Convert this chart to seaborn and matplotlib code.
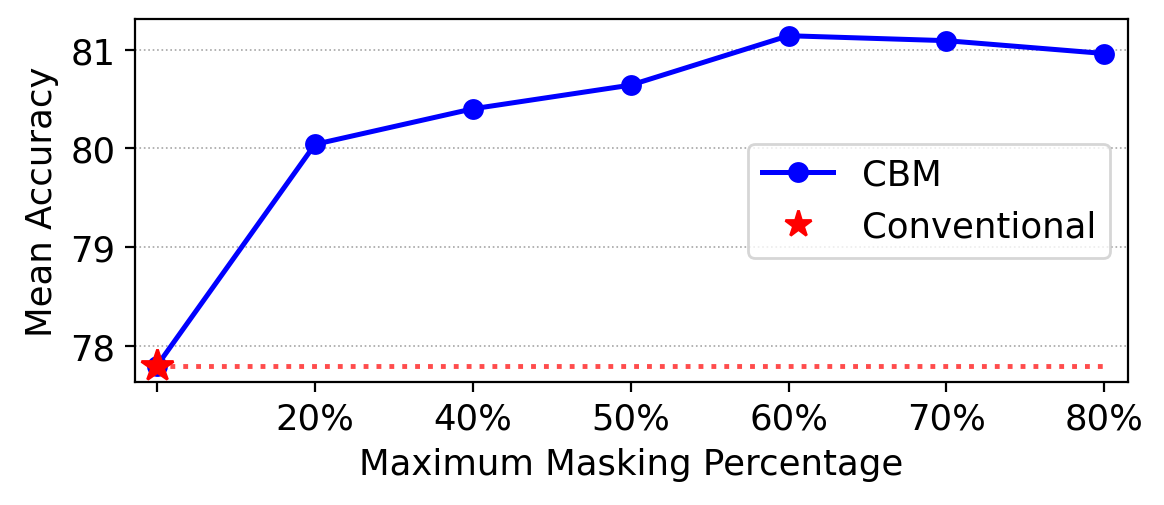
import matplotlib.pyplot as plt
import numpy as np
import pandas as pd
import seaborn as sns
from matplotlib.lines import Line2D

# Data
mask_labels = ['', '20%', '40%', '50%', '60%', '70%', '80%']
cbm_acc = [77.80, 80.04, 80.40, 80.64, 81.14, 81.09, 80.96]
conventional_acc = 77.80

fs = 12.8
df = pd.DataFrame({'pos': np.arange(len(mask_labels)), 'acc': cbm_acc})

fig, ax = plt.subplots(figsize=(5.82, 2.53), dpi=200)
fig.subplots_adjust(left=0.116, right=0.969, top=0.960, bottom=0.243)

sns.lineplot(data=df, x='pos', y='acc', color='blue', marker='o', markersize=7.5,
             markeredgewidth=0, linewidth=1.8, ax=ax)

# baseline
ax.plot(df['pos'], [conventional_acc] * len(df), color='red', linestyle=':',
        linewidth=1.75, alpha=0.7)
ax.plot([0], [conventional_acc], linestyle='none', marker='*', color='red',
        markersize=12, zorder=5)

ax.set_xticks(df['pos'])
ax.set_xticklabels(mask_labels, fontsize=fs)
ax.set_yticks([78, 79, 80, 81])
ax.tick_params(axis='y', labelsize=fs)
ax.set_xlim(-0.14, 6.15)
ax.yaxis.grid(True, linestyle=':', color='gray', linewidth=0.6, alpha=0.7)
ax.set_xlabel('Maximum Masking Percentage', fontsize=fs)
ax.set_ylabel('Mean Accuracy', fontsize=fs)

handles = [
    Line2D([], [], color='blue', marker='o', markersize=7.5, markeredgewidth=0,
           linewidth=1.8, label='CBM'),
    Line2D([], [], color='red', marker='*', markersize=10, linestyle='none',
           label='Conventional'),
]
ax.legend(handles=handles, loc='center right', fontsize=fs)

fig.savefig('out.png', dpi=200)
